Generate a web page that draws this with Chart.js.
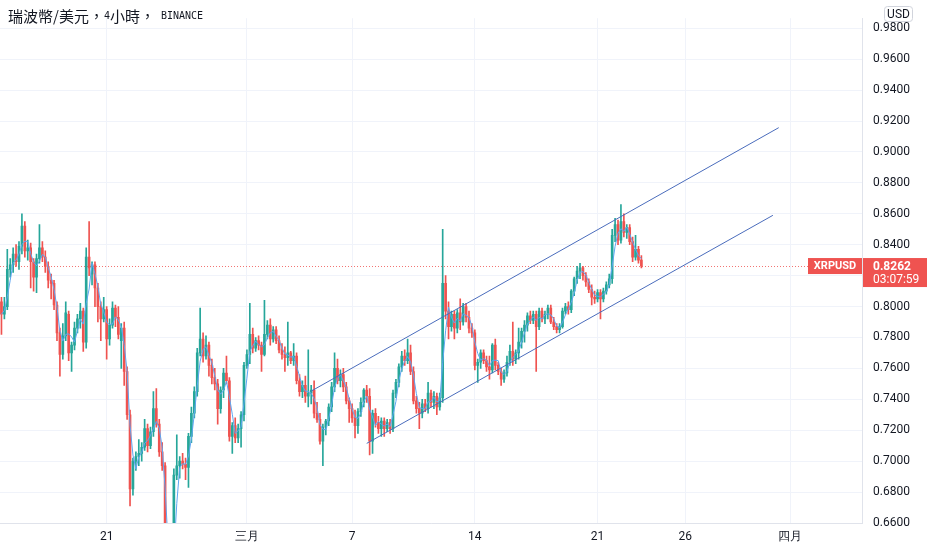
<!DOCTYPE html>
<html>
<head>
<meta charset="utf-8">
<title>XRPUSD 4h</title>
<script src="https://cdn.jsdelivr.net/npm/chart.js@4.4.1/dist/chart.umd.min.js"></script>
<style>
  html, body { margin: 0; padding: 0; background: #fff; }
  #wrap { width: 932px; height: 550px; }
</style>
</head>
<body>
<div id="wrap"><canvas id="chart" width="932" height="550"></canvas></div>
<script>
(function () {
    // 4h candles, 15 Feb 00:00 -> 23 Mar 12:00
    var opens = [
        0.803, 0.795, 0.800, 0.824, 0.827, 0.834, 0.829, 0.839, 0.852, 0.836,
        0.838, 0.829, 0.819, 0.831, 0.838, 0.832, 0.826, 0.817, 0.815, 0.801,
        0.783, 0.769, 0.781, 0.795, 0.770, 0.775, 0.786, 0.792, 0.797, 0.777,
        0.832, 0.821, 0.827, 0.812, 0.800, 0.792, 0.798, 0.779, 0.788, 0.799,
        0.793, 0.778, 0.786, 0.758, 0.730, 0.682, 0.700, 0.703, 0.705, 0.709,
        0.721, 0.710, 0.719, 0.734, 0.724, 0.706, 0.697, 0.645, 0.600, 0.630,
        0.691, 0.697, 0.700, 0.698, 0.696, 0.716, 0.731, 0.745, 0.770, 0.779,
        0.768, 0.775, 0.762, 0.754, 0.750, 0.734, 0.746, 0.757, 0.752, 0.716,
        0.723, 0.715, 0.721, 0.730, 0.762, 0.769, 0.782, 0.773, 0.778, 0.775,
        0.769, 0.782, 0.788, 0.779, 0.785, 0.778, 0.772, 0.769, 0.767, 0.770,
        0.765, 0.768, 0.752, 0.745, 0.749, 0.742, 0.744, 0.746, 0.731, 0.727,
        0.713, 0.722, 0.726, 0.735, 0.748, 0.760, 0.752, 0.756, 0.748, 0.739,
        0.734, 0.728, 0.723, 0.732, 0.738, 0.746, 0.742, 0.713, 0.731, 0.725,
        0.721, 0.726, 0.721, 0.725, 0.721, 0.744, 0.751, 0.761, 0.768, 0.765,
        0.770, 0.758, 0.739, 0.734, 0.731, 0.737, 0.734, 0.744, 0.738, 0.742,
        0.735, 0.741, 0.815, 0.797, 0.787, 0.795, 0.786, 0.796, 0.790, 0.800,
        0.793, 0.786, 0.783, 0.762, 0.764, 0.770, 0.765, 0.761, 0.759, 0.775,
        0.762, 0.758, 0.753, 0.757, 0.764, 0.771, 0.766, 0.770, 0.777, 0.784,
        0.788, 0.794, 0.791, 0.795, 0.787, 0.797, 0.792, 0.795, 0.799, 0.790,
        0.787, 0.785, 0.787, 0.797, 0.800, 0.798, 0.810, 0.818, 0.823, 0.825,
        0.820, 0.816, 0.811, 0.806, 0.805, 0.809, 0.805, 0.810, 0.814, 0.818,
        0.846, 0.853, 0.843, 0.855, 0.848, 0.851, 0.842, 0.832, 0.837, 0.830
    ];
    var highs = [
        0.806, 0.806, 0.837, 0.831, 0.838, 0.840, 0.842, 0.860, 0.855, 0.843,
        0.841, 0.831, 0.834, 0.853, 0.842, 0.836, 0.829, 0.821, 0.817, 0.803,
        0.786, 0.789, 0.803, 0.797, 0.777, 0.790, 0.795, 0.802, 0.799, 0.838,
        0.855, 0.829, 0.829, 0.815, 0.803, 0.806, 0.800, 0.792, 0.803, 0.801,
        0.800, 0.789, 0.790, 0.761, 0.733, 0.702, 0.706, 0.714, 0.712, 0.727,
        0.724, 0.722, 0.745, 0.747, 0.727, 0.712, 0.699, 0.650, 0.640, 0.695,
        0.717, 0.703, 0.705, 0.702, 0.718, 0.735, 0.748, 0.773, 0.799, 0.783,
        0.781, 0.777, 0.766, 0.760, 0.753, 0.748, 0.760, 0.768, 0.754, 0.725,
        0.728, 0.724, 0.732, 0.764, 0.772, 0.802, 0.786, 0.780, 0.781, 0.777,
        0.804, 0.791, 0.792, 0.787, 0.787, 0.781, 0.776, 0.774, 0.790, 0.771,
        0.776, 0.770, 0.756, 0.752, 0.755, 0.772, 0.749, 0.752, 0.738, 0.731,
        0.724, 0.727, 0.737, 0.751, 0.770, 0.766, 0.759, 0.760, 0.751, 0.741,
        0.737, 0.733, 0.734, 0.741, 0.747, 0.749, 0.747, 0.733, 0.734, 0.729,
        0.728, 0.728, 0.727, 0.727, 0.746, 0.753, 0.763, 0.771, 0.772, 0.779,
        0.775, 0.761, 0.742, 0.738, 0.740, 0.740, 0.751, 0.746, 0.745, 0.744,
        0.744, 0.850, 0.820, 0.803, 0.797, 0.797, 0.798, 0.805, 0.802, 0.802,
        0.797, 0.789, 0.785, 0.766, 0.772, 0.772, 0.768, 0.768, 0.776, 0.779,
        0.764, 0.760, 0.759, 0.768, 0.775, 0.790, 0.772, 0.786, 0.786, 0.791,
        0.796, 0.797, 0.797, 0.797, 0.799, 0.799, 0.797, 0.801, 0.801, 0.793,
        0.789, 0.789, 0.799, 0.802, 0.803, 0.811, 0.819, 0.826, 0.828, 0.826,
        0.822, 0.818, 0.814, 0.810, 0.811, 0.811, 0.812, 0.816, 0.821, 0.850,
        0.857, 0.856, 0.866, 0.860, 0.853, 0.853, 0.845, 0.846, 0.839, 0.833
    ];
    var lows = [
        0.782, 0.792, 0.798, 0.819, 0.822, 0.826, 0.824, 0.834, 0.832, 0.830,
        0.812, 0.810, 0.809, 0.828, 0.829, 0.822, 0.812, 0.805, 0.798, 0.778,
        0.755, 0.766, 0.778, 0.765, 0.758, 0.772, 0.783, 0.786, 0.771, 0.773,
        0.820, 0.814, 0.800, 0.790, 0.778, 0.790, 0.766, 0.775, 0.786, 0.787,
        0.779, 0.760, 0.749, 0.727, 0.671, 0.678, 0.694, 0.697, 0.700, 0.707,
        0.706, 0.708, 0.716, 0.722, 0.703, 0.694, 0.640, 0.585, 0.590, 0.625,
        0.688, 0.689, 0.695, 0.688, 0.683, 0.712, 0.728, 0.742, 0.768, 0.764,
        0.766, 0.755, 0.750, 0.746, 0.724, 0.731, 0.741, 0.750, 0.713, 0.705,
        0.712, 0.712, 0.709, 0.726, 0.760, 0.763, 0.770, 0.771, 0.772, 0.758,
        0.768, 0.779, 0.775, 0.777, 0.776, 0.770, 0.766, 0.758, 0.762, 0.763,
        0.762, 0.750, 0.742, 0.741, 0.738, 0.735, 0.737, 0.728, 0.725, 0.711,
        0.697, 0.717, 0.723, 0.732, 0.745, 0.750, 0.748, 0.745, 0.737, 0.725,
        0.725, 0.715, 0.718, 0.729, 0.735, 0.738, 0.704, 0.705, 0.722, 0.718,
        0.716, 0.716, 0.719, 0.718, 0.719, 0.741, 0.748, 0.758, 0.762, 0.763,
        0.756, 0.737, 0.731, 0.721, 0.728, 0.732, 0.731, 0.735, 0.734, 0.730,
        0.733, 0.738, 0.792, 0.779, 0.784, 0.779, 0.783, 0.785, 0.788, 0.790,
        0.783, 0.780, 0.759, 0.751, 0.760, 0.763, 0.758, 0.753, 0.757, 0.759,
        0.756, 0.749, 0.751, 0.755, 0.762, 0.762, 0.763, 0.766, 0.773, 0.777,
        0.784, 0.789, 0.789, 0.758, 0.785, 0.790, 0.789, 0.792, 0.789, 0.785,
        0.783, 0.783, 0.786, 0.795, 0.795, 0.796, 0.807, 0.815, 0.818, 0.817,
        0.813, 0.809, 0.801, 0.802, 0.803, 0.792, 0.803, 0.808, 0.812, 0.815,
        0.842, 0.840, 0.841, 0.845, 0.844, 0.840, 0.829, 0.830, 0.828, 0.825
    ];
    var closes = [
        0.795, 0.800, 0.824, 0.827, 0.834, 0.829, 0.839, 0.852, 0.836, 0.838,
        0.829, 0.819, 0.831, 0.838, 0.832, 0.826, 0.817, 0.815, 0.801, 0.783,
        0.769, 0.781, 0.796, 0.770, 0.775, 0.786, 0.792, 0.797, 0.777, 0.832,
        0.825, 0.827, 0.812, 0.800, 0.792, 0.798, 0.779, 0.788, 0.799, 0.793,
        0.782, 0.786, 0.758, 0.730, 0.682, 0.700, 0.703, 0.705, 0.709, 0.721,
        0.710, 0.719, 0.734, 0.724, 0.706, 0.697, 0.645, 0.600, 0.630, 0.691,
        0.697, 0.700, 0.698, 0.696, 0.716, 0.731, 0.745, 0.770, 0.779, 0.768,
        0.775, 0.762, 0.754, 0.750, 0.734, 0.746, 0.757, 0.752, 0.716, 0.723,
        0.715, 0.721, 0.730, 0.762, 0.769, 0.782, 0.773, 0.778, 0.775, 0.769,
        0.782, 0.788, 0.779, 0.785, 0.778, 0.772, 0.769, 0.767, 0.770, 0.765,
        0.768, 0.752, 0.745, 0.749, 0.742, 0.744, 0.746, 0.731, 0.727, 0.713,
        0.722, 0.726, 0.735, 0.748, 0.760, 0.752, 0.756, 0.748, 0.739, 0.734,
        0.728, 0.723, 0.732, 0.738, 0.746, 0.742, 0.713, 0.731, 0.725, 0.721,
        0.726, 0.721, 0.725, 0.721, 0.744, 0.751, 0.761, 0.768, 0.765, 0.770,
        0.758, 0.739, 0.734, 0.731, 0.737, 0.734, 0.744, 0.738, 0.742, 0.735,
        0.741, 0.815, 0.797, 0.787, 0.795, 0.786, 0.796, 0.790, 0.800, 0.793,
        0.786, 0.783, 0.762, 0.764, 0.770, 0.765, 0.761, 0.759, 0.775, 0.762,
        0.758, 0.753, 0.757, 0.764, 0.771, 0.766, 0.770, 0.777, 0.784, 0.788,
        0.794, 0.791, 0.795, 0.787, 0.797, 0.792, 0.795, 0.799, 0.790, 0.787,
        0.785, 0.787, 0.797, 0.800, 0.798, 0.810, 0.818, 0.823, 0.825, 0.820,
        0.816, 0.811, 0.806, 0.805, 0.809, 0.805, 0.810, 0.814, 0.818, 0.846,
        0.853, 0.843, 0.855, 0.848, 0.851, 0.842, 0.832, 0.837, 0.830, 0.8262
    ];

    // parallel channel drawn on the chart (slot index, price)
    var channelUpperIdx = [106, 266];
    var channelUpperVal = [0.7453, 0.9157];
    var channelLowerIdx = [125, 264];
    var channelLowerVal = [0.7115, 0.8590];

    var yTicks = [0.66, 0.68, 0.70, 0.72, 0.74, 0.76, 0.78, 0.80, 0.82, 0.84, 0.86, 0.88, 0.90, 0.92, 0.94, 0.96, 0.98];
    var xTickIdx = [36, 84, 120, 162, 204, 234, 270];
    var xTickText = ["21", "三月", "7", "14", "21", "26", "四月"];

    var lastPrice = closes[closes.length - 1];
    var maPeriod = 3;

    var UP = "#26a69a";
    var DOWN = "#ef5350";
    var SLOTS = 295;
    var CJK = '15px "Noto Sans CJK TC", sans-serif';
    var MONO = '10px "DejaVu Sans Mono", monospace';

    var slotLabels = [];
    for (var i = 0; i < SLOTS; i++) {
        var d = new Date(Date.UTC(2022, 1, 15, 4 * i));
        slotLabels.push((d.getUTCMonth() + 1) + "/" + d.getUTCDate() + " " + d.getUTCHours() + ":00");
    }

    var bodies = opens.map(function (o, i) { return [o, closes[i]]; });
    var wicks = lows.map(function (l, i) { return [l, highs[i]]; });
    var colors = closes.map(function (c, i) { return c >= opens[i] ? UP : DOWN; });

    var ma = closes.map(function (c, i) {
        var s = closes.slice(Math.max(0, i - maPeriod + 1), i + 1);
        return s.reduce(function (a, b) { return a + b; }, 0) / s.length;
    });

    function segment(idx, vals) {
        var arr = new Array(SLOTS).fill(null);
        idx.forEach(function (k, j) { arr[k] = vals[j]; });
        return arr;
    }

    // title is mixed CJK / monospace latin, drawn run by run
    var titleRuns = [
        ["瑞波幣/美元，", CJK],
        ["4", MONO],
        ["小時，", CJK],
        [" BINANCE", MONO]
    ];

    var overlay = {
        id: "overlay",
        beforeDatasetsDraw: function (chart) {
            var ctx = chart.ctx, area = chart.chartArea;
            var y = Math.round(chart.scales.y.getPixelForValue(lastPrice)) + 0.5;
            ctx.save();
            ctx.strokeStyle = "rgba(239,83,80,0.8)";
            ctx.lineWidth = 1;
            ctx.setLineDash([1, 2]);
            ctx.beginPath();
            ctx.moveTo(area.left, y);
            ctx.lineTo(area.right, y);
            ctx.stroke();
            ctx.restore();
        },
        afterDraw: function (chart) {
            var ctx = chart.ctx, area = chart.chartArea;
            var y = chart.scales.y.getPixelForValue(lastPrice);
            ctx.save();
            // title
            ctx.fillStyle = "#131722";
            ctx.textBaseline = "middle";
            ctx.textAlign = "left";
            var tx = 8;
            titleRuns.forEach(function (r) {
                ctx.font = r[1];
                ctx.fillText(r[0], tx, 16);
                tx += ctx.measureText(r[0]).width;
            });

            // symbol tag
            ctx.fillStyle = DOWN;
            ctx.fillRect(area.right - 54, y - 8, 54, 16);
            ctx.fillStyle = "#fff";
            ctx.font = 'bold 11px "Roboto", sans-serif';
            ctx.textAlign = "center";
            ctx.fillText("XRPUSD", area.right - 27, y + 0.5);

            // price tag
            ctx.fillStyle = DOWN;
            ctx.fillRect(area.right + 1, y - 8, 64, 29);
            ctx.fillStyle = "#fff";
            ctx.textAlign = "left";
            ctx.font = 'bold 12px "Roboto", sans-serif';
            ctx.fillText(lastPrice.toFixed(4), area.right + 11, y + 0.5);
            ctx.font = '12px "Roboto", sans-serif';
            ctx.fillText("03:07:59", area.right + 11, y + 14);

            // currency box
            ctx.fillStyle = "#fff";
            ctx.strokeStyle = "#d1d4dc";
            ctx.lineWidth = 1;
            ctx.beginPath();
            ctx.roundRect(884.5, 6.5, 28, 15, 3);
            ctx.fill();
            ctx.stroke();
            ctx.fillStyle = "#131722";
            ctx.font = '12px "Roboto", sans-serif';
            ctx.textAlign = "center";
            ctx.fillText("USD", 898.5, 14.5);
            ctx.restore();
        }
    };

    var c = document.getElementById("chart");
    new Chart(c, {
        type: "bar",
        data: {
            labels: slotLabels,
            datasets: [
                {
                    type: "line",
                    label: "channel top",
                    data: segment(channelUpperIdx, channelUpperVal),
                    borderColor: "#4a6cbc",
                    borderWidth: 1,
                    pointRadius: 0,
                    spanGaps: true,
                    order: 0
                },
                {
                    type: "line",
                    label: "channel bottom",
                    data: segment(channelLowerIdx, channelLowerVal),
                    borderColor: "#4a6cbc",
                    borderWidth: 1,
                    pointRadius: 0,
                    spanGaps: true,
                    order: 0
                },
                {
                    type: "line",
                    label: "MA",
                    data: ma,
                    borderColor: "#5ea6f2",
                    borderWidth: 1,
                    pointRadius: 0,
                    tension: 0,
                    order: 1
                },
                {
                    label: "body",
                    data: bodies,
                    backgroundColor: colors,
                    barThickness: 2,
                    minBarLength: 1,
                    grouped: false,
                    order: 2
                },
                {
                    label: "wick",
                    data: wicks,
                    backgroundColor: colors,
                    barThickness: 1,
                    grouped: false,
                    order: 3
                }
            ]
        },
        options: {
            responsive: false,
            animation: false,
            events: [],
            layout: { padding: 0 },
            plugins: { legend: { display: false }, tooltip: { enabled: false } },
            scales: {
                x: {
                    offset: true,
                    grid: { color: "#f0f3fa", offset: false, drawTicks: false },
                    border: { color: "#e0e3eb" },
                    afterBuildTicks: function (scale) {
                        scale.ticks = xTickIdx.map(function (v) { return { value: v }; });
                    },
                    afterFit: function (scale) { scale.height = 27; },
                    ticks: {
                        autoSkip: false,
                        maxRotation: 0,
                        padding: 7,
                        color: "#131722",
                        font: { family: "Roboto", size: 12 },
                        callback: function (v) { return xTickText[xTickIdx.indexOf(v)]; }
                    }
                },
                y: {
                    position: "right",
                    min: 0.66,
                    max: 0.9865,
                    grid: { color: "#f0f3fa", drawTicks: false },
                    border: { color: "#e0e3eb" },
                    afterBuildTicks: function (scale) {
                        scale.ticks = yTicks.map(function (v) { return { value: v }; });
                    },
                    afterFit: function (scale) { scale.width = 70; },
                    ticks: {
                        padding: 11,
                        color: "#131722",
                        font: { family: "Roboto", size: 12 },
                        callback: function (v) { return Number(v).toFixed(4); }
                    }
                }
            }
        },
        plugins: [overlay]
    });
})();
</script>
</body>
</html>
